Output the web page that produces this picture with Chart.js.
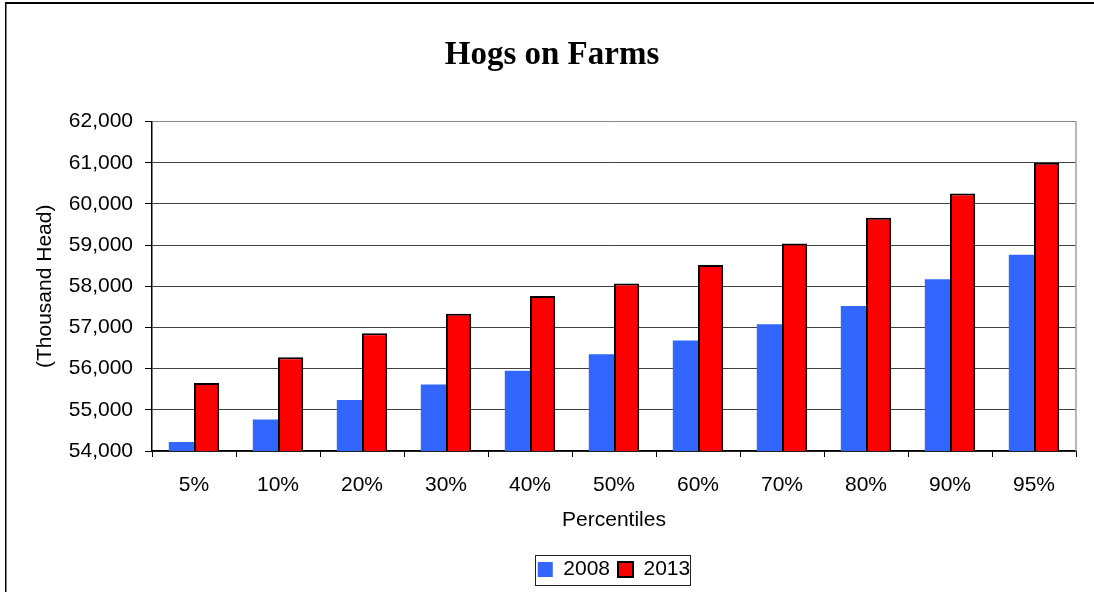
<!DOCTYPE html>
<html>
<head>
<meta charset="utf-8">
<script src="https://cdn.jsdelivr.net/npm/chart.js@4"></script>
<style>
  html, body { margin: 0; padding: 0; background: #fff; }
  #wrap { width: 1094px; height: 592px; }
</style>
</head>
<body>
<div id="wrap"><canvas id="hogChart" width="1094" height="592"></canvas></div>
<script>
let percentiles = ['5%','10%','20%','30%','40%','50%','60%','70%','80%','90%','95%'];
let hogs2008 = [54220, 54764, 55236, 55618, 55951, 56350, 56683, 57081, 57520, 58171, 58764];
let hogs2013 = [55651, 56276, 56862, 57333, 57764, 58065, 58520, 59041, 59667, 60252, 61000];
let yMin = 54000, yMax = 62000, yStep = 1000;

let sans = "'Liberation Sans', Arial, sans-serif";

// frame, right border of plot, box round the legend
let extras = {
    id: 'extras',
    afterLayout: function(c) {
        // legend sits under the plot area centre, not the canvas centre
        let a = c.chartArea, lg = c.legend;
        let shift = (a.left + a.right) / 2 - (lg.left + lg.right) / 2;
        lg.left += shift;
        lg.right += shift;
    },
    beforeDraw: function(c) {
        let ctx = c.ctx;
        ctx.save();
        ctx.fillStyle = '#fff';
        ctx.fillRect(0, 0, c.width, c.height);
        ctx.fillStyle = '#000';
        ctx.fillRect(5, 2, c.width, 2);
        ctx.fillRect(5, 2, 1.5, c.height);
        ctx.restore();
    },
    afterDraw: function(c) {
        let ctx = c.ctx, a = c.chartArea;
        ctx.save();
        ctx.strokeStyle = '#a0a0a0';
        ctx.lineWidth = 1.5;
        ctx.beginPath();
        ctx.moveTo(a.right, a.top);
        ctx.lineTo(a.right, a.bottom);
        ctx.stroke();

        let hb = c.legend.legendHitBoxes;
        if (hb && hb.length) {
            let first = hb[0], last = hb[hb.length - 1];
            let cy = first.top + first.height / 2;
            ctx.strokeStyle = '#222';
            ctx.lineWidth = 1;
            ctx.strokeRect(Math.round(first.left - 3) + 0.5, Math.round(cy - 15) + 0.5,
                           Math.round(last.left + last.width - first.left + 3), 30);
        }
        ctx.restore();
    }
};

new Chart(document.getElementById('hogChart'), {
    type: 'bar',
    data: {
        labels: percentiles,
        datasets: [
            {
                label: '2008',
                data: hogs2008,
                backgroundColor: '#3366ff',
                borderWidth: 0,
                categoryPercentage: 0.6,
                barPercentage: 1.0
            },
            {
                label: '2013',
                data: hogs2013,
                backgroundColor: '#ff0000',
                borderColor: '#000',
                borderWidth: 2,
                categoryPercentage: 0.6,
                barPercentage: 1.0
            }
        ]
    },
    options: {
        responsive: false,
        animation: false,
        layout: { padding: { left: 28, right: 18, top: 0, bottom: 2 } },
        plugins: {
            title: {
                display: true,
                text: 'Hogs on Farms',
                color: '#000',
                font: { family: "'Liberation Serif', 'Times New Roman', serif", size: 33, weight: 'bold' },
                padding: { top: 36, bottom: 46 }
            },
            legend: {
                position: 'bottom',
                labels: {
                    color: '#000',
                    font: { family: sans, size: 21 },
                    boxWidth: 15,
                    boxHeight: 15,
                    padding: 8
                }
            },
            tooltip: { enabled: false }
        },
        scales: {
            x: {
                grid: {
                    offset: true,
                    drawOnChartArea: false,
                    tickLength: 6,
                    tickColor: '#000'
                },
                border: { color: '#000', width: 1.5 },
                ticks: {
                    color: '#000',
                    font: { family: sans, size: 21 },
                    padding: 16,
                    maxRotation: 0
                },
                title: {
                    display: true,
                    text: 'Percentiles',
                    color: '#000',
                    font: { family: sans, size: 21 },
                    padding: { top: 4, bottom: 18 }
                },
                afterFit: function(s) { s.height = 100; }
            },
            y: {
                min: yMin,
                max: yMax,
                grid: {
                    color: function(ctx) { return ctx.tick && ctx.tick.value === yMax ? '#888' : '#404040'; },
                    lineWidth: 1,
                    tickLength: 7,
                    tickColor: '#000'
                },
                border: { color: '#000', width: 1.5 },
                ticks: {
                    stepSize: yStep,
                    color: '#000',
                    font: { family: sans, size: 21 },
                    padding: 12,
                    callback: function(v) { return v.toLocaleString('en-US'); }
                },
                title: {
                    display: true,
                    text: '(Thousand Head)',
                    color: '#000',
                    font: { family: sans, size: 21 },
                    padding: { top: 5, bottom: 4 }
                },
                afterFit: function(s) { s.width = 124; }
            }
        }
    },
    plugins: [extras]
});
</script>
</body>
</html>
